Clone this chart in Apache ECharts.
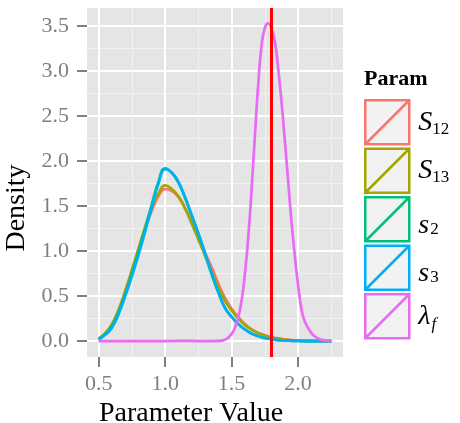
<!DOCTYPE html>
<html>
<head>
<meta charset="utf-8">
<script src="https://cdn.jsdelivr.net/npm/echarts@6/dist/echarts.min.js"></script>
<style>
  html, body { margin: 0; padding: 0; background: #fff; }
  #chart { width: 460px; height: 423px; }
</style>
</head>
<body>
<div id="chart"></div>
<script>
// density estimates on a 0.05 grid
const xs = [0.50, 0.55, 0.60, 0.65, 0.70, 0.75, 0.80, 0.85, 0.90, 0.95,
            1.00, 1.05, 1.10, 1.15, 1.20, 1.25, 1.30, 1.35, 1.40, 1.45,
            1.50, 1.55, 1.60, 1.65, 1.70, 1.75, 1.80, 1.85, 1.90, 1.95,
            2.00, 2.05, 2.10, 2.15, 2.20, 2.25]

const densS12 = [0.02, 0.08, 0.18, 0.34, 0.55, 0.78, 1.02, 1.25, 1.45, 1.61,
                 1.69, 1.67, 1.60, 1.47, 1.31, 1.14, 0.98, 0.82, 0.64, 0.48,
                 0.36, 0.27, 0.19, 0.13, 0.09, 0.065, 0.045, 0.03, 0.02, 0.012,
                 0.008, 0.005, 0.003, 0.002, 0.001, 0]
const densS13 = [0.03, 0.09, 0.19, 0.35, 0.56, 0.79, 1.03, 1.27, 1.48, 1.64,
                 1.73, 1.69, 1.61, 1.48, 1.31, 1.13, 0.95, 0.77, 0.60, 0.45,
                 0.34, 0.25, 0.18, 0.13, 0.09, 0.06, 0.04, 0.025, 0.015, 0.01,
                 0.006, 0.004, 0.002, 0.001, 0, 0]
const densS2 = [0.02, 0.08, 0.17, 0.32, 0.52, 0.75, 0.99, 1.25, 1.52, 1.77,
                1.92, 1.87, 1.76, 1.59, 1.39, 1.19, 0.97, 0.74, 0.54, 0.37,
                0.27, 0.19, 0.13, 0.085, 0.055, 0.035, 0.02, 0.012, 0.007, 0.004,
                0.002, 0.001, 0, 0, 0, 0]
const densS3 = [0.02, 0.07, 0.15, 0.30, 0.50, 0.72, 0.96, 1.22, 1.49, 1.75,
                1.91, 1.87, 1.77, 1.60, 1.40, 1.20, 0.98, 0.75, 0.55, 0.37,
                0.27, 0.19, 0.13, 0.085, 0.055, 0.035, 0.02, 0.012, 0.007, 0.004,
                0.002, 0.001, 0.0005, 0, 0, 0]

// lambda_f is narrow, so it gets a finer grid round its peak
const xsLf = [0.50, 0.75, 1.00, 1.10, 1.20, 1.30, 1.40, 1.45, 1.50, 1.525,
              1.55, 1.575, 1.60, 1.625, 1.65, 1.675, 1.70, 1.725, 1.75, 1.775,
              1.80, 1.825, 1.85, 1.875, 1.90, 1.925, 1.95, 1.975, 2.00, 2.025,
              2.05, 2.10, 2.15, 2.20, 2.25]
const densLf = [0, 0, 0, 0.003, 0.002, 0, 0.002, 0.015, 0.08, 0.15,
                0.26, 0.45, 0.75, 1.15, 1.68, 2.28, 2.85, 3.28, 3.48, 3.53,
                3.47, 3.33, 3.03, 2.66, 2.23, 1.78, 1.33, 0.95, 0.62, 0.36,
                0.22, 0.09, 0.03, 0.008, 0]

const paramNames = ['S_12', 'S_13', 's_2', 's_3', 'λ_f']
const paramColors = ['#F8766D', '#A3A500', '#00BF7D', '#00B0F6', '#E76BF3']
const trueValue = 1.8

const xTicks = [0.5, 1.0, 1.5, 2.0]
const xMinor = [0.75, 1.25, 1.75, 2.25]
const yTicks = [0, 0.5, 1.0, 1.5, 2.0, 2.5, 3.0, 3.5]
const yMinor = [0.25, 0.75, 1.25, 1.75, 2.25, 2.75, 3.25]
const xRange = [0.4125, 2.3375]
const yRange = [-0.176, 3.70]

const serif = 'Liberation Serif'
const grey = '#7F7F7F'

const allX = [xs, xs, xs, xs, xsLf]
const allDens = [densS12, densS13, densS2, densS3, densLf]

const series = paramNames.map((name, i) => {
  const s = {
    name: name,
    type: 'line',
    xAxisIndex: 1,
    yAxisIndex: 1,
    data: allX[i].map((x, j) => [x, allDens[i][j]]),
    showSymbol: false,
    smooth: 0.5,
    lineStyle: { color: paramColors[i], width: 2.7 },
    itemStyle: { color: paramColors[i] }
  }
  if (i === paramNames.length - 1) {
    s.markLine = {
      silent: true,
      symbol: 'none',
      label: { show: false },
      lineStyle: { color: '#FF0000', width: 3, type: 'solid' },
      data: [{ xAxis: trueValue }]
    }
  }
  return s
})

const minorAxis = (range, minor, pos) => ({
  type: 'value',
  gridIndex: 0,
  position: pos,
  min: range[0],
  max: range[1],
  axisLine: { show: false, onZero: false },
  axisTick: { show: false, customValues: minor },
  axisLabel: { show: false },
  splitLine: { show: true, lineStyle: { color: '#F2F2F2', width: 1 } }
})

// legend labels: italic symbol + subscript, lowercase s sits lower like in TeX
const legendLabel = name => {
  const [base, sub] = name.split('_')
  if (base === 's') return '{ml|' + base + '}{dl|' + sub + '}'
  if (/[a-z]/.test(sub)) return '{m|' + base + '}{f|' + sub + '}'
  return '{m|' + base + '}{d|' + sub + '}'
}

const chart = echarts.init(document.getElementById('chart'))
chart.setOption({
  animation: false,
  grid: {
    left: 87, right: 117, top: 8, bottom: 66,
    containLabel: false,
    outerBoundsMode: 'none',
    show: true, backgroundColor: '#E5E5E5', borderWidth: 0
  },
  title: {
    text: 'Param',
    left: 364,
    top: 68,
    padding: 0,
    textStyle: { fontFamily: serif, fontWeight: 'bold', fontSize: 22, color: '#000' }
  },
  legend: {
    orient: 'vertical',
    left: 364,
    top: 99,
    padding: 0,
    itemWidth: 46,
    itemHeight: 44,
    itemGap: 2,
    selectedMode: false,
    icon: 'path://M0,0L10,0L10,10L0,10Z M0,10L10,0',
    data: paramNames.map((n, i) => ({
      name: n,
      itemStyle: { color: '#F2F2F2', borderColor: paramColors[i], borderWidth: 2.5 }
    })),
    formatter: legendLabel,
    textStyle: {
      rich: {
        m: { fontFamily: serif, fontStyle: 'italic', fontSize: 28, color: '#000', padding: [0, 0, 0, 3] },
        ml: { fontFamily: serif, fontStyle: 'italic', fontSize: 28, color: '#000', padding: [12, 0, 0, 3] },
        d: { fontFamily: serif, fontSize: 17, color: '#000', padding: [14, 0, 0, 0] },
        dl: { fontFamily: serif, fontSize: 17, color: '#000', padding: [20, 0, 0, 1] },
        f: { fontFamily: serif, fontStyle: 'italic', fontSize: 17, color: '#000', padding: [17, 0, 0, 1] }
      }
    }
  },
  xAxis: [
    minorAxis(xRange, xMinor, 'top'),
    {
      type: 'value',
      gridIndex: 0,
      position: 'bottom',
      min: xRange[0],
      max: xRange[1],
      axisLine: { show: false, onZero: false },
      axisTick: { show: true, customValues: xTicks, length: 10, lineStyle: { color: grey, width: 2 } },
      axisLabel: {
        customValues: xTicks,
        formatter: v => v.toFixed(1),
        color: grey, fontFamily: serif, fontSize: 22, margin: 16
      },
      splitLine: { show: true, lineStyle: { color: '#FFFFFF', width: 2 } },
      name: 'Parameter Value',
      nameLocation: 'middle',
      nameGap: 37,
      nameTextStyle: { fontFamily: serif, fontSize: 28, color: '#000', padding: [0, 48, 0, 0] }
    }
  ],
  yAxis: [
    minorAxis(yRange, yMinor, 'right'),
    {
      type: 'value',
      gridIndex: 0,
      position: 'left',
      min: yRange[0],
      max: yRange[1],
      axisLine: { show: false, onZero: false },
      axisTick: { show: true, customValues: yTicks, length: 10, lineStyle: { color: grey, width: 2 } },
      axisLabel: {
        customValues: yTicks,
        formatter: v => v.toFixed(1),
        color: grey, fontFamily: serif, fontSize: 22, margin: 18
      },
      splitLine: { show: true, lineStyle: { color: '#FFFFFF', width: 2 } },
      name: 'Density',
      nameLocation: 'middle',
      nameRotate: 90,
      nameGap: 53,
      nameTextStyle: { fontFamily: serif, fontSize: 28, color: '#000', padding: [0, 51, 0, 0] }
    }
  ],
  series: series
})
</script>
</body>
</html>
